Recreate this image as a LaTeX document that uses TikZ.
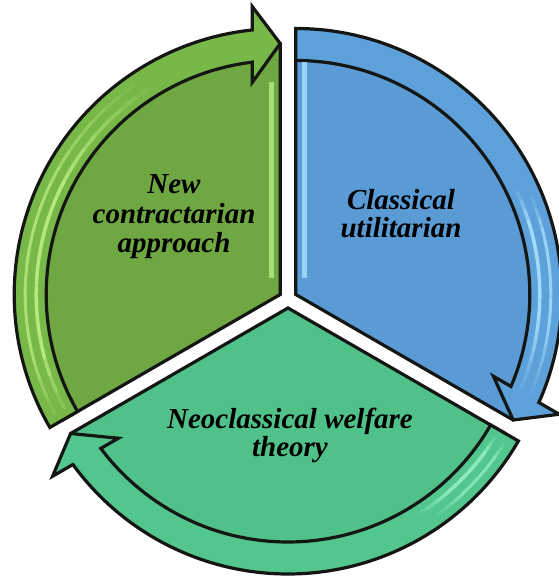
\documentclass[tikz,border=0pt]{standalone}
\usepackage{fontspec}
\setmainfont{Liberation Serif}
\usetikzlibrary{calc}
\definecolor{gbody}{RGB}{111,168,66}
\definecolor{gband}{RGB}{120,184,72}
\definecolor{glite}{RGB}{182,236,132}
\definecolor{bbody}{RGB}{91,155,213}
\definecolor{bband}{RGB}{94,160,218}
\definecolor{blite}{RGB}{165,225,252}
\definecolor{tbody}{RGB}{80,194,137}
\definecolor{tband}{RGB}{82,198,140}
\definecolor{tlite}{RGB}{150,240,196}
\definecolor{edgeblack}{RGB}{20,22,20}
\tikzset{
  outline/.style={draw=edgeblack, line width=3.2pt, line join=miter, miter limit=12},
  lbl/.style={font=\fontsize{29}{30}\selectfont\bfseries\itshape, anchor=base, inner sep=0pt, text=black}
}
\newcommand\glowarc[7]{%
  \pgfmathsetmacro\gstep{(#4-#3)/20}%
  \foreach \i in {0,...,19}{%
    \pgfmathsetmacro\ga{#3+\i*\gstep}%
    \pgfmathsetmacro\gb{#3+(\i+1)*\gstep}%
    \pgfmathsetmacro\go{#7*min(1,(\i+1)/4,(20-\i)/8)}%
    \draw[#5, line width=#6, opacity=\go, line cap=butt] ($(#1)+(\ga:#2)$) arc[start angle=\ga, end angle=\gb, radius=#2];
  }}
\begin{document}
\begin{tikzpicture}[x=1pt,y=1pt]
\useasboundingbox (0,0) rectangle (558,577);
\coordinate (C) at (288,278);
\coordinate (G) at ($(C)+(150:9)$);
\coordinate (B) at ($(C)+(30:9)$);
\coordinate (T) at ($(C)+(270:9)$);

\foreach \k/\s/\bc/\nc in {G/210/gbody/gband, B/90/bbody/bband, T/-30/tbody/tband}{
  \pgfmathsetmacro\e{\s-120}
  \pgfmathsetmacro\eo{\e+asin(28/266)}
  \pgfmathsetmacro\ei{\e+asin(28/234)}
  \path[outline, fill=\bc] (\k) -- ($(\k)+(\s:250)$) arc[start angle=\s, end angle=\e, radius=250] -- cycle;
  \path[outline, fill=\nc] ($(\k)+(\s:234)$) -- ($(\k)+(\s:266)$) arc[start angle=\s, end angle=\eo, radius=266]
     -- ($(\k)+(\e:288)+(\e+90:28)$) -- ($(\k)+(\e:251)$) -- ($(\k)+(\e:212)+(\e+90:28)$)
     -- ($(\k)+(\ei:234)$) arc[start angle=\ei, end angle=\s, radius=234] -- cycle;
}

% glossy stripes in the bands
\glowarc{G}{244}{208}{122}{glite}{3.5pt}{0.95}
\glowarc{G}{255}{208}{125}{glite}{3pt}{0.8}
\glowarc{B}{244}{25}{-23}{blite}{3.5pt}{0.95}
\glowarc{B}{255}{22}{-23}{blite}{3pt}{0.8}
\glowarc{T}{244}{-32}{-58}{tlite}{3.5pt}{0.9}
\glowarc{T}{255}{-32}{-55}{tlite}{3pt}{0.75}

% highlights along the vertical edges
\draw[glite, line width=5pt, opacity=0.8] ($(G)+(-9,16)$) -- ($(G)+(-9,212)$);
\draw[blite, line width=5pt, opacity=0.8] ($(B)+(9,16)$) -- ($(B)+(9,232)$);

% labels
\node[lbl] (g1) at (174,383) {New};
\node[lbl] (g2) at (174,353) {contractarian};
\node[lbl] (g3) at (174,324) {approach};
\node[lbl] (b1) at (401,367) {Classical};
\node[lbl] (b2) at (401,339) {utilitarian};
\node[lbl] (t1) at (290,148) {Neoclassical welfare};
\node[lbl] (t2) at (290,120) {theory};
\end{tikzpicture}
\end{document}
